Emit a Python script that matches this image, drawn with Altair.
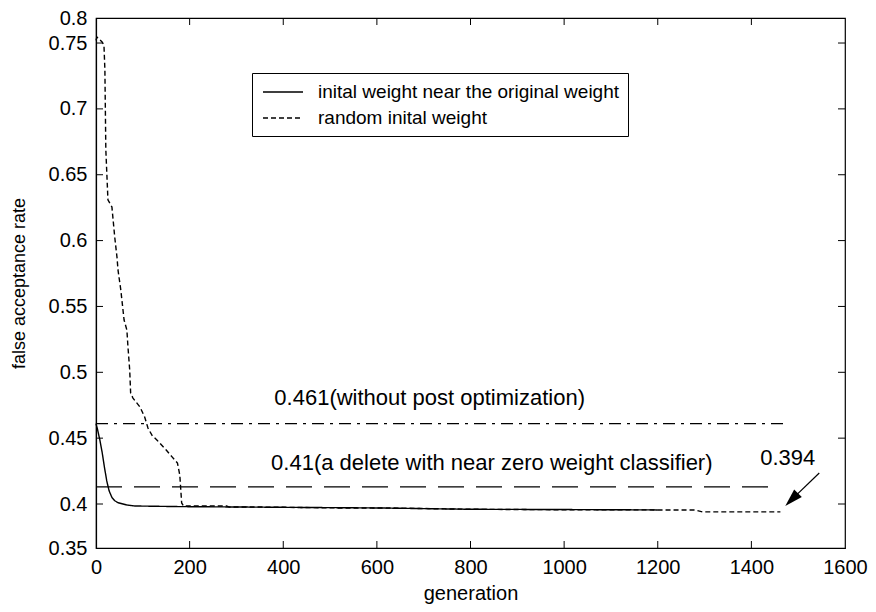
import altair as alt
import pandas as pd

FONT = "Liberation Sans"

# ---- series: inital weight near the original weight (solid) ----
near_gen = [0, 3, 8, 13, 18, 23, 28, 34, 40, 47, 65, 83, 185, 400, 600, 800, 1000, 1200]
near_far = [0.461, 0.457, 0.449, 0.4395, 0.428, 0.4175, 0.410, 0.405, 0.4025, 0.401, 0.3993,
            0.3985, 0.398, 0.3975, 0.397, 0.396, 0.3958, 0.3955]

# ---- series: random inital weight (dashed) ----
rand_gen = [0, 2, 13, 17, 19, 21, 25.5, 34, 40, 45, 47, 53, 60, 66, 68, 72, 74, 79, 94, 104,
            111, 120, 130, 150, 162, 174, 179, 183, 187, 279, 285, 355, 400, 519, 621, 800,
            1023, 1200, 1279, 1296, 1462]
rand_far = [0.752, 0.7546, 0.7508, 0.7485, 0.7295, 0.669, 0.631, 0.6255, 0.6027, 0.5868,
            0.5777, 0.5625, 0.5397, 0.532, 0.5207, 0.5017, 0.4842, 0.4804, 0.4736, 0.466,
            0.4577, 0.452, 0.4486, 0.441, 0.436, 0.4311, 0.422, 0.4008, 0.3985, 0.3985,
            0.3977, 0.3977, 0.3975, 0.397, 0.397, 0.396, 0.3956, 0.3955, 0.3955, 0.394, 0.394]

series_names = ["inital weight near the original weight", "random inital weight"]

# ---- reference lines ----
ref_far = [0.461, 0.413]
ref_end = [1470, 1460]
ref_names = ["dashdot", "longdash"]

# ---- annotations ----
note_text = ["0.461(without post optimization)",
             "0.41(a delete with near zero weight classifier)",
             "0.394"]
note_gen = [381, 374, 1419]
note_far = [0.4752, 0.4258, 0.4296]

# ---- arrow ----
arrow_gen = [1545, 1486]
arrow_far = [0.4235, 0.4033]
head_gen = [1486]
head_far = [0.4033]

# ---- axes ----
x_ticks = [0, 200, 400, 600, 800, 1000, 1200, 1400, 1600]
y_lo, y_hi = 0.3666, 0.769
y_tick_values = [y_lo, 0.40, 0.45, 0.50, 0.55, 0.60, 0.65, 0.70, 0.75, y_hi]
y_tick_labels = ["0.35", "0.4", "0.45", "0.5", "0.55", "0.6", "0.65", "0.7", "0.75", "0.8"]
inner_x_ticks = x_ticks[1:-1]
inner_y_ticks = y_tick_values[1:-1]

W, H = 749, 530

lines_df = pd.DataFrame(
    {"gen": near_gen + rand_gen,
     "far": near_far + rand_far,
     "series": [series_names[0]] * len(near_gen) + [series_names[1]] * len(rand_gen)}
)
ref_df = pd.DataFrame({"gen": [0] * len(ref_far), "gen_end": ref_end, "far": ref_far, "kind": ref_names})
note_df = pd.DataFrame({"gen": note_gen, "far": note_far, "text": note_text})
arrow_df = pd.DataFrame({"gen": arrow_gen, "far": arrow_far})
head_df = pd.DataFrame({"gen": head_gen, "far": head_far})
xt_df = pd.DataFrame({"gen": inner_x_ticks})
yt_df = pd.DataFrame({"far": inner_y_ticks})

expr = "''"
for v, lab in reversed(list(zip(y_tick_values, y_tick_labels))):
    expr = f"abs(datum.value - {v}) < 0.0005 ? '{lab}' : ({expr})"

x_enc = alt.X(
    "gen:Q",
    scale=alt.Scale(domain=[0, 1600], nice=False, zero=False),
    axis=alt.Axis(values=x_ticks, title="generation", format="d", grid=False,
                  tickSize=0, labelPadding=9, labelFlush=False, labelOverlap=False,
                  titleY=51, titleBaseline="alphabetic", titleFontSize=20),
)
y_enc = alt.Y(
    "far:Q",
    scale=alt.Scale(domain=[y_lo, y_hi], nice=False, zero=False),
    axis=alt.Axis(values=y_tick_values, labelExpr=expr, title="false acceptance rate",
                  grid=False, tickSize=0, labelPadding=9, labelFlush=False,
                  labelOverlap=False, labelBound=False,
                  titleX=-72, titleY=H / 2, titleBaseline="alphabetic", titleAngle=270,
                  titleFontSize=18),
)

series_lines = alt.Chart(lines_df).mark_line(strokeWidth=1.4, color="black").encode(
    x=x_enc,
    y=y_enc,
    strokeDash=alt.StrokeDash(
        "series:N",
        scale=alt.Scale(domain=series_names, range=[[1, 0], [5, 3]]),
        legend=alt.Legend(title=None, orient="none", legendX=156, legendY=55,
                          direction="vertical"),
    ),
    order="gen:Q",
)

ref_dashdot = alt.Chart(ref_df[ref_df.kind == "dashdot"]).mark_rule(
    color="black", strokeWidth=1.3, strokeDash=[12, 6, 3, 6]
).encode(x=x_enc, x2="gen_end:Q", y=y_enc)

ref_long = alt.Chart(ref_df[ref_df.kind == "longdash"]).mark_rule(
    color="black", strokeWidth=1.3, strokeDash=[26, 12]
).encode(x=x_enc, x2="gen_end:Q", y=y_enc)

notes = alt.Chart(note_df).mark_text(
    align="left", baseline="alphabetic", font=FONT, fontSize=22, color="black"
).encode(x=x_enc, y=y_enc, text="text:N")

arrow_line = alt.Chart(arrow_df).mark_line(color="black", strokeWidth=1.2).encode(x=x_enc, y=y_enc)
arrow_head = alt.Chart(head_df).mark_point(
    shape="M0,-1L0.6,1L-0.6,1Z", size=324, angle=225, filled=True, color="black", opacity=1
).encode(x=x_enc, y=y_enc)

tick_bottom = alt.Chart(xt_df).mark_rule(color="black", strokeWidth=1).encode(
    x=x_enc, y=alt.value(H), y2=alt.value(H - 7))
tick_top = alt.Chart(xt_df).mark_rule(color="black", strokeWidth=1).encode(
    x=x_enc, y=alt.value(0), y2=alt.value(7))
tick_left = alt.Chart(yt_df).mark_rule(color="black", strokeWidth=1).encode(
    y=y_enc, x=alt.value(0), x2=alt.value(7))
tick_right = alt.Chart(yt_df).mark_rule(color="black", strokeWidth=1).encode(
    y=y_enc, x=alt.value(W), x2=alt.value(W - 7))

chart = (
    alt.layer(series_lines, ref_dashdot, ref_long, notes, arrow_line, arrow_head,
              tick_bottom, tick_top, tick_left, tick_right)
    .properties(width=W, height=H, autosize=alt.AutoSizeParams(type="none"),
                padding={"left": 88, "top": 10, "right": 23, "bottom": 56},
                background="white")
    .configure(font=FONT)
    .configure_view(stroke="black", strokeWidth=1.2)
    .configure_axis(domainColor="black", domainWidth=1.2, labelColor="black",
                    titleColor="black", labelFont=FONT, titleFont=FONT,
                    labelFontSize=20, titleFontWeight="normal")
    .configure_legend(strokeColor="black", fillColor="white", padding=8,
                      cornerRadius=0, symbolType="M-2,0L2,0", symbolSize=400,
                      symbolStrokeWidth=1.4, symbolStrokeColor="black",
                      symbolFillColor="transparent",
                      labelFontSize=19, labelFont=FONT, labelColor="black",
                      labelLimit=600, labelOffset=24, rowPadding=5, symbolOffset=12)
)

chart.save("out.html", embed_options={"renderer": "svg", "actions": False})
